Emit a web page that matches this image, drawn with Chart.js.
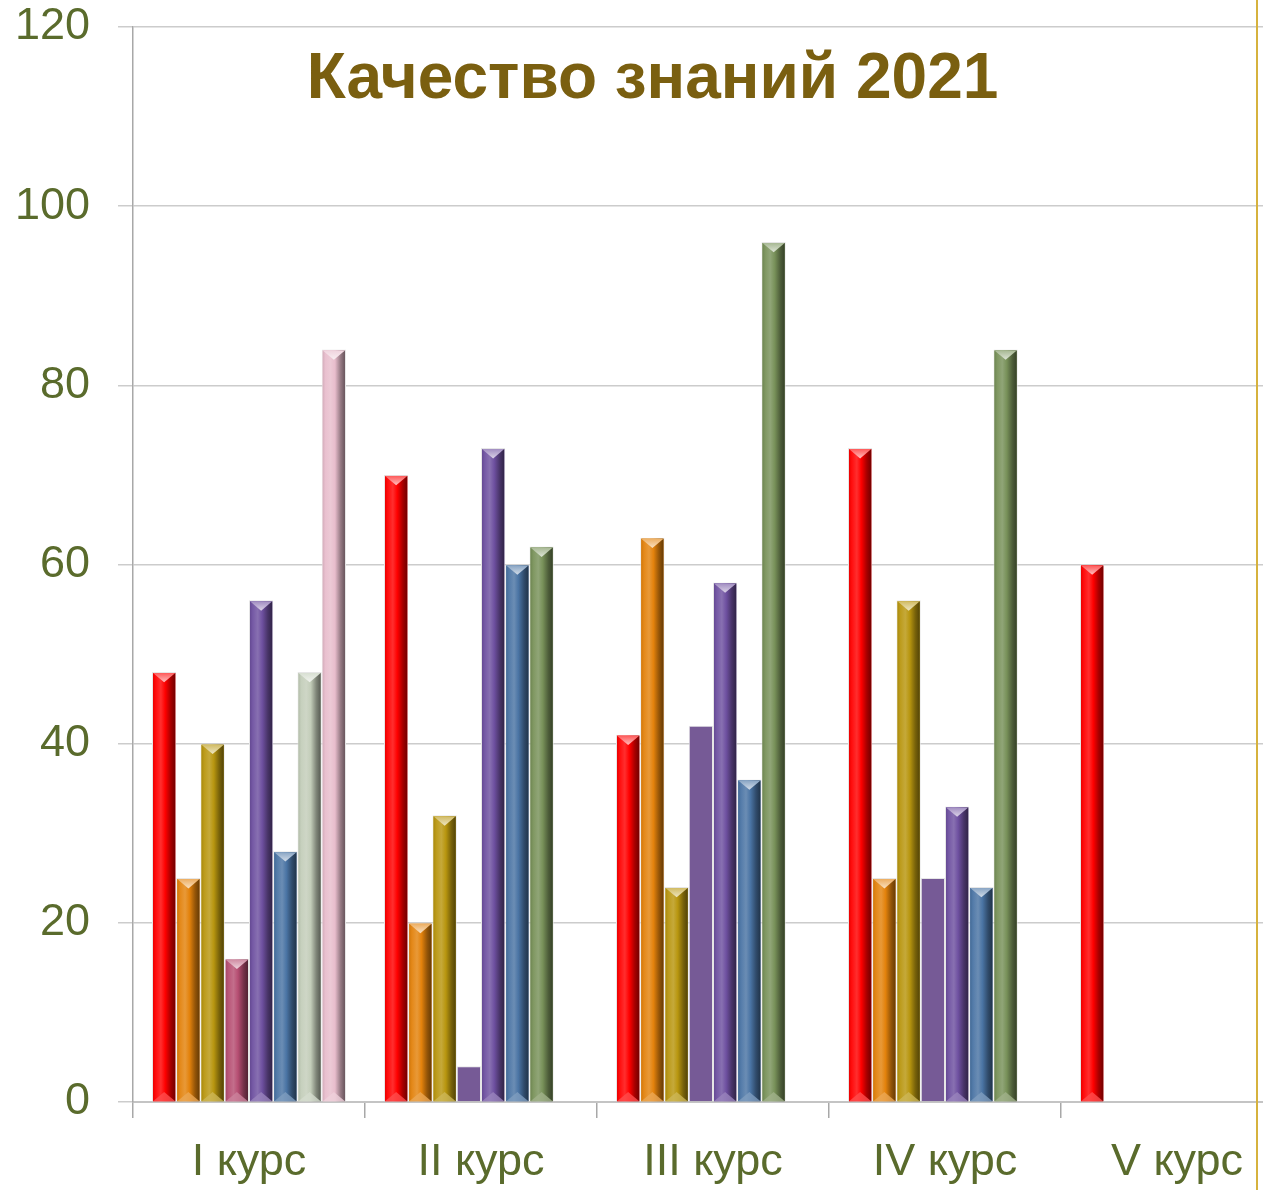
<!DOCTYPE html>
<html>
<head>
<meta charset="utf-8">
<script src="https://cdn.jsdelivr.net/npm/chart.js@4"></script>
<style>
  html, body { margin: 0; padding: 0; background: #fff; overflow: hidden; width: 1263px; height: 1190px; }
  #wrap { position: relative; width: 1263px; height: 1190px; overflow: hidden; }
  #c { position: absolute; left: 0; top: 0; }
  #title { position: absolute; left: 0; width: 1305px; top: 38px; text-align: center;
           font-family: "Liberation Sans", Arial, sans-serif; font-weight: bold; font-size: 64px;
           color: #7a5f10; line-height: 76px; white-space: nowrap; }
  #edge { position: absolute; left: 1256px; top: 0; width: 2px; height: 1190px; background: #d6b23e; }
</style>
</head>
<body>
<div id="wrap">
  <canvas id="c" width="1320" height="1190"></canvas>
  <div id="title">Качество знаний 2021</div>
  <div id="edge"></div>
</div>
<script>
// ---- data ----
const categories = ['I курс', 'II курс', 'III курс', 'IV курс', 'V курс'];
const series1 = [48, 70, 41, 73, 60];
const series2 = [25, 20, 63, 25, null];
const series3 = [40, 32, 24, 56, null];
const series4 = [16, 4, 42, 25, null];
const series5 = [56, 73, 58, 33, null];
const series6 = [28, 60, 36, 24, null];
const series7 = [48, 62, 96, 84, null];
const series8 = [84, null, null, null, null];
const yTicks = [0, 20, 40, 60, 80, 100, 120];

// ---- styles ----
const seriesColors = [
  ['#ff0000', '#ff0000', '#ff0000', '#ff0000', '#ff0000'],
  ['#e3820c', '#e3820c', '#e3820c', '#e3820c', '#e3820c'],
  ['#b8960f', '#b8960f', '#b8960f', '#b8960f', '#b8960f'],
  ['#b64e72', '#765a96', '#765a96', '#765a96', '#765a96'],
  ['#6e50a0', '#6e50a0', '#6e50a0', '#6e50a0', '#6e50a0'],
  ['#4a74a4', '#4a74a4', '#4a74a4', '#4a74a4', '#4a74a4'],
  ['#c3cdb9', '#789159', '#789159', '#789159', '#789159'],
  ['#e8bdcc', '#e8bdcc', '#e8bdcc', '#e8bdcc', '#e8bdcc']
];
const flatPoints = [
  [false, false, false, false, false],
  [false, false, false, false, false],
  [false, false, false, false, false],
  [false, true, true, true, true],
  [false, false, false, false, false],
  [false, false, false, false, false],
  [false, false, false, false, false],
  [false, false, false, false, false]
];

const allSeries = [series1, series2, series3, series4, series5, series6, series7, series8];

function hexToRgb(h) {
  h = h.replace('#', '');
  return [parseInt(h.substr(0, 2), 16), parseInt(h.substr(2, 2), 16), parseInt(h.substr(4, 2), 16)];
}
function mix(hex, target, t) {
  const c = hexToRgb(hex);
  const r = c.map((v, i) => Math.round(v + (target[i] - v) * t));
  return 'rgb(' + r.join(',') + ')';
}
const WHITE = [255, 255, 255], BLACK = [0, 0, 0];

const bevelPlugin = {
  id: 'bevel',
  afterDatasetsDraw(chart) {
    const ctx = chart.ctx;
    chart.data.datasets.forEach((ds, di) => {
      const meta = chart.getDatasetMeta(di);
      meta.data.forEach((el, i) => {
        if (ds.data[i] === null || ds.data[i] === undefined) return;
        if (flatPoints[di][i]) return;
        const p = el.getProps(['x', 'y', 'base', 'width'], true);
        const col = seriesColors[di][i];
        const l = p.x - p.width / 2 + 1, r = p.x + p.width / 2 - 1;
        const top = Math.min(p.y, p.base) + 1, bot = Math.max(p.y, p.base);
        const w = r - l;
        ctx.save();
        const g = ctx.createLinearGradient(l, 0, r, 0);
        g.addColorStop(0, mix(col, BLACK, 0.08));
        g.addColorStop(0.12, mix(col, WHITE, 0.05));
        g.addColorStop(0.35, mix(col, WHITE, 0.18));
        g.addColorStop(0.55, col);
        g.addColorStop(0.8, mix(col, BLACK, 0.35));
        g.addColorStop(1, mix(col, BLACK, 0.55));
        ctx.fillStyle = g;
        ctx.fillRect(l, top, w, bot - top);
        // top chevron
        const th = Math.min(w * 0.42, (bot - top) / 2);
        const tg = ctx.createLinearGradient(0, top, 0, top + th);
        tg.addColorStop(0, mix(col, WHITE, 0.35));
        tg.addColorStop(1, mix(col, WHITE, 0.75));
        ctx.fillStyle = tg;
        ctx.beginPath();
        ctx.moveTo(l, top);
        ctx.lineTo(r, top);
        ctx.lineTo(p.x, top + th);
        ctx.closePath();
        ctx.fill();
        // bottom chevron
        ctx.fillStyle = mix(col, WHITE, 0.3);
        ctx.globalAlpha = 0.8;
        ctx.beginPath();
        ctx.moveTo(l, bot);
        ctx.lineTo(r, bot);
        ctx.lineTo(p.x, bot - th);
        ctx.closePath();
        ctx.fill();
        ctx.restore();
      });
    });
  }
};

const tickFont = { family: '"Liberation Sans", Arial, sans-serif', size: 45 };
const tickColor = '#5a6b2c';

new Chart(document.getElementById('c'), {
  type: 'bar',
  data: {
    labels: categories,
    datasets: allSeries.map((s, k) => ({
      label: 'Ряд ' + (k + 1),
      data: s,
      backgroundColor: seriesColors[k],
      borderColor: '#e6e6e6',
      borderWidth: 1,
      barPercentage: 1.0,
      categoryPercentage: 0.836
    }))
  },
  options: {
    responsive: false,
    animation: false,
    layout: { padding: { top: 0, right: 27, bottom: 0, left: 0 } },
    plugins: { legend: { display: false }, title: { display: false }, tooltip: { enabled: false } },
    scales: {
      x: {
        grid: { display: true, drawOnChartArea: false, drawTicks: true, tickLength: 16, color: '#a8a8a8', lineWidth: 1.5, offset: true },
        border: { display: true, color: '#c4c4c4', width: 2 },
        ticks: { font: tickFont, color: tickColor, padding: 18, maxRotation: 0 },
        afterFit: (s) => { s.height = 88; }
      },
      y: {
        min: 0, max: 120,
        afterBuildTicks: (s) => { s.ticks = yTicks.map(v => ({ value: v })); },
        grid: { color: '#cccccc', lineWidth: 1.5, tickLength: 15 },
        border: { display: true, color: '#a8a8a8', width: 1.5 },
        ticks: { font: tickFont, color: tickColor, padding: 28 },
        afterFit: (s) => { s.width = 133; s.paddingTop = 27; s.paddingBottom = 0; }
      }
    }
  },
  plugins: [bevelPlugin]
});
</script>
</body>
</html>
